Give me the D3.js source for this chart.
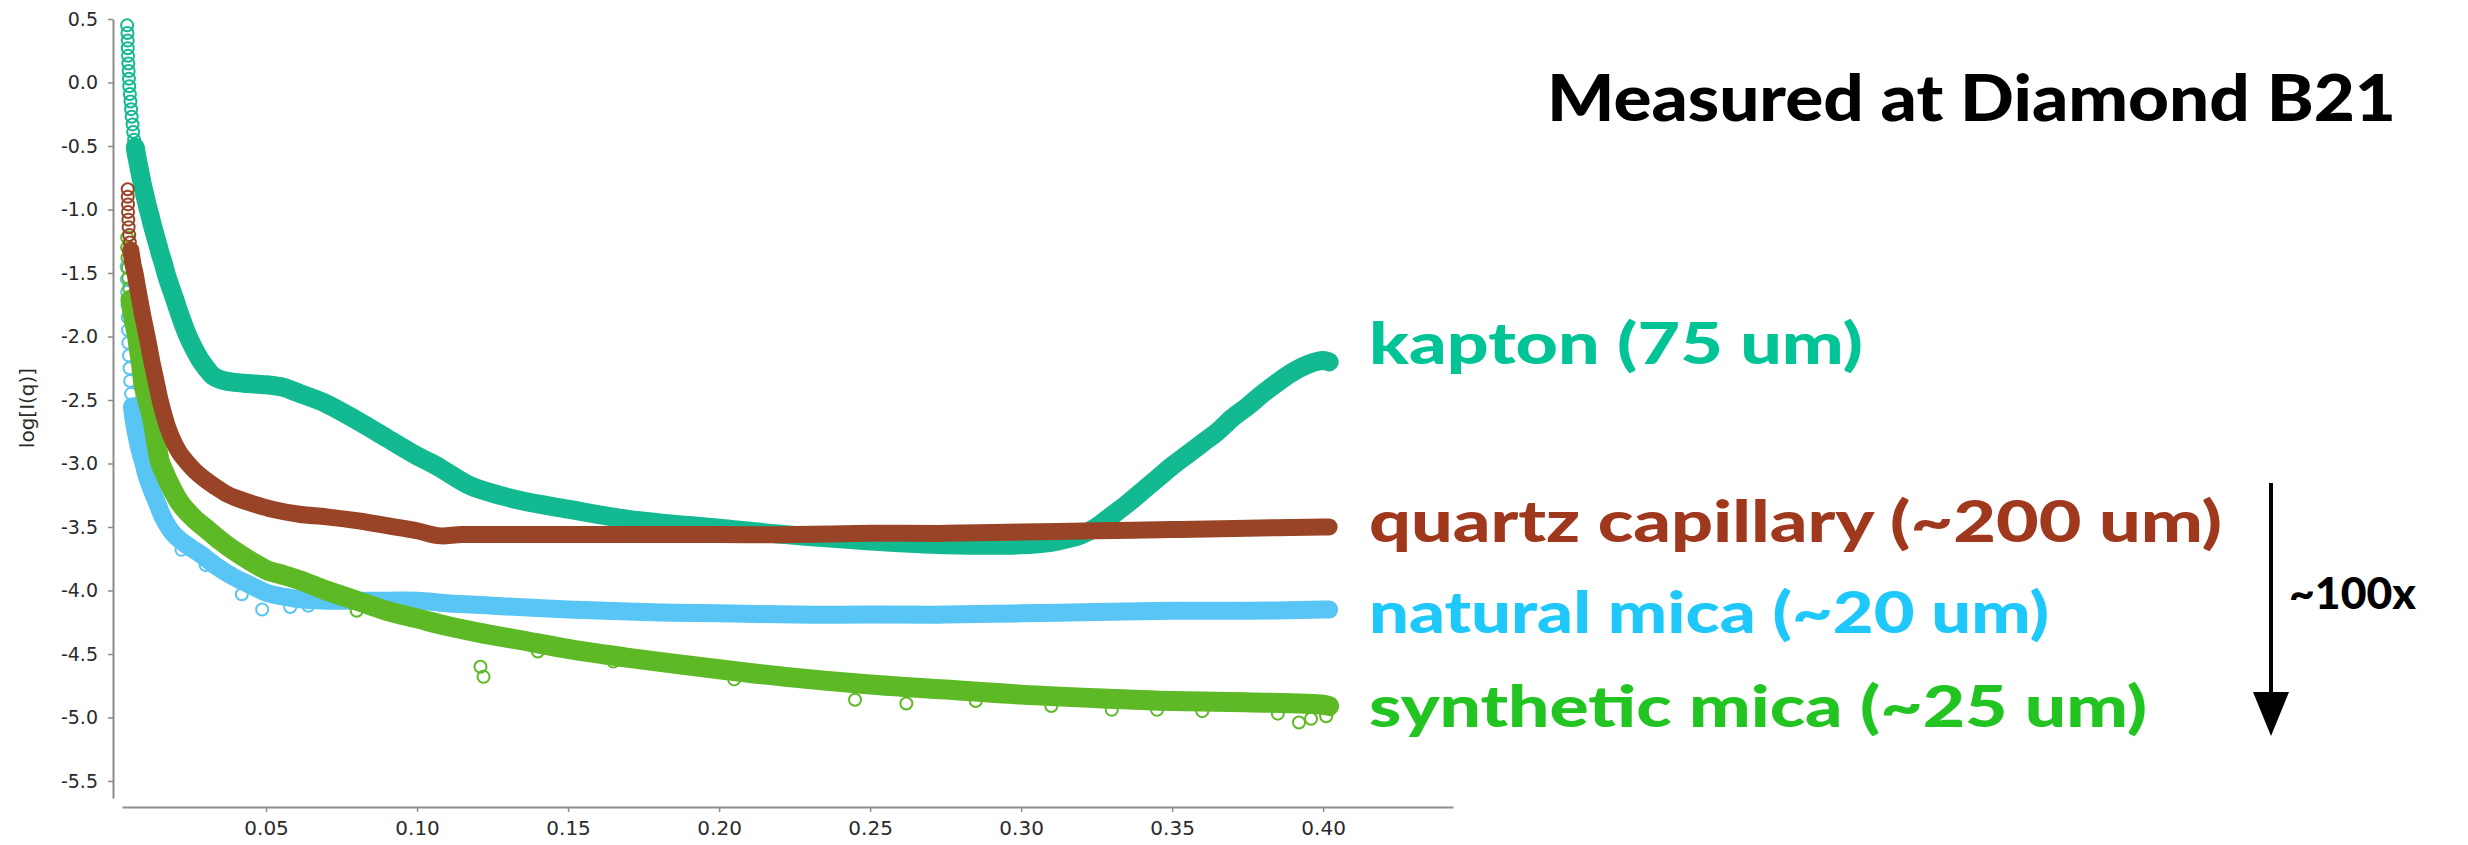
<!DOCTYPE html>
<html>
<head>
<meta charset="utf-8">
<script src="https://cdn.jsdelivr.net/npm/d3@7"></script>
<style>
  html, body { margin: 0; padding: 0; background: #fff; }
  svg { display: block; }
</style>
</head>
<body>
<svg id="chart" width="2468" height="845"></svg>
<script>
// ---- tick values and labels ----
const xTicks = [0.05, 0.10, 0.15, 0.20, 0.25, 0.30, 0.35, 0.40];
const xTickLabels = ["0.05", "0.10", "0.15", "0.20", "0.25", "0.30", "0.35", "0.40"];
const yTicks = [0.5, 0.0, -0.5, -1.0, -1.5, -2.0, -2.5, -3.0, -3.5, -4.0, -4.5, -5.0, -5.5];
const yTickLabels = ["0.5", "0.0", "-0.5", "-1.0", "-1.5", "-2.0", "-2.5", "-3.0", "-3.5", "-4.0", "-4.5", "-5.0", "-5.5"];

// ---- measured curves: [q, log I(q)] ----
const kapton = [
  [0.0040, 0.45], [0.0041, 0.39], [0.0042, 0.33], [0.0042, 0.27], [0.0043, 0.21], [0.0044, 0.15],
  [0.0045, 0.09], [0.0046, 0.03], [0.0047, -0.03], [0.0049, -0.09], [0.0051, -0.15], [0.0053, -0.21],
  [0.0055, -0.27], [0.0058, -0.33], [0.0060, -0.39], [0.0063, -0.45], [0.0067, -0.51], [0.0071, -0.57],
  [0.0076, -0.63], [0.0081, -0.69], [0.0086, -0.75], [0.0091, -0.81], [0.0097, -0.87], [0.0103, -0.93],
  [0.0109, -0.99], [0.0116, -1.05], [0.0122, -1.11], [0.0129, -1.17], [0.0136, -1.23], [0.0143, -1.29],
  [0.0150, -1.35], [0.0158, -1.41], [0.0165, -1.47], [0.0172, -1.53], [0.0185, -1.62], [0.0198, -1.71],
  [0.0212, -1.81], [0.0227, -1.91], [0.0242, -2.00], [0.0260, -2.09], [0.0281, -2.18], [0.0302, -2.25],
  [0.0324, -2.31], [0.0350, -2.34], [0.0390, -2.36], [0.0440, -2.37], [0.0500, -2.38], [0.0556, -2.40],
  [0.0613, -2.45], [0.0700, -2.53], [0.0800, -2.66], [0.0900, -2.80], [0.1000, -2.94], [0.1050, -3.00],
  [0.1080, -3.04], [0.1100, -3.07], [0.1180, -3.18], [0.1340, -3.29], [0.1500, -3.36], [0.1700, -3.44],
  [0.2000, -3.51], [0.2220, -3.56], [0.2500, -3.61], [0.2750, -3.64], [0.3000, -3.64], [0.3100, -3.62],
  [0.3160, -3.59], [0.3200, -3.56], [0.3250, -3.50], [0.3300, -3.41], [0.3350, -3.32], [0.3400, -3.22],
  [0.3450, -3.12], [0.3500, -3.02], [0.3550, -2.93], [0.3600, -2.84], [0.3650, -2.75], [0.3700, -2.64],
  [0.3750, -2.55], [0.3800, -2.45], [0.3850, -2.36], [0.3900, -2.28], [0.3950, -2.22], [0.4000, -2.19],
  [0.4020, -2.20]
];

const quartz = [
  [0.0042, -0.84], [0.0042, -0.90], [0.0043, -0.96], [0.0043, -1.02], [0.0044, -1.08], [0.0045, -1.14],
  [0.0047, -1.20], [0.0049, -1.26], [0.0052, -1.32], [0.0056, -1.38], [0.0060, -1.44], [0.0066, -1.50],
  [0.0072, -1.58], [0.0078, -1.66], [0.0085, -1.75], [0.0092, -1.84], [0.0099, -1.92], [0.0106, -2.00],
  [0.0114, -2.10], [0.0122, -2.20], [0.0131, -2.30], [0.0140, -2.40], [0.0149, -2.50], [0.0160, -2.60],
  [0.0175, -2.72], [0.0192, -2.82], [0.0212, -2.91], [0.0238, -2.99], [0.0265, -3.06], [0.0295, -3.12],
  [0.0330, -3.18], [0.0370, -3.24], [0.0410, -3.28], [0.0460, -3.32], [0.0520, -3.36], [0.0610, -3.40],
  [0.0700, -3.42], [0.0800, -3.45], [0.0900, -3.49], [0.1000, -3.53], [0.1050, -3.56], [0.1080, -3.57],
  [0.1150, -3.56], [0.1300, -3.56], [0.1500, -3.56], [0.1750, -3.56], [0.2000, -3.56], [0.2250, -3.56],
  [0.2500, -3.55], [0.2750, -3.55], [0.3000, -3.54], [0.3250, -3.53], [0.3500, -3.52], [0.3750, -3.51],
  [0.4000, -3.50], [0.4020, -3.50]
];

const naturalMica = [
  [0.0038, -1.45], [0.0039, -1.55], [0.0040, -1.65], [0.0041, -1.75], [0.0042, -1.85], [0.0043, -1.95],
  [0.0044, -2.05], [0.0046, -2.15], [0.0048, -2.25], [0.0050, -2.35], [0.0053, -2.45], [0.0056, -2.55],
  [0.0060, -2.63], [0.0066, -2.72], [0.0073, -2.80], [0.0082, -2.90], [0.0093, -2.99], [0.0105, -3.10],
  [0.0120, -3.20], [0.0139, -3.31], [0.0160, -3.43], [0.0192, -3.55], [0.0230, -3.63], [0.0281, -3.71],
  [0.0330, -3.80], [0.0390, -3.89], [0.0450, -3.96], [0.0503, -4.02], [0.0560, -4.05], [0.0613, -4.07],
  [0.0700, -4.08], [0.0800, -4.08], [0.0900, -4.08], [0.1000, -4.08], [0.1100, -4.10], [0.1250, -4.12],
  [0.1500, -4.15], [0.1750, -4.17], [0.2000, -4.18], [0.2250, -4.19], [0.2500, -4.19], [0.2750, -4.19],
  [0.3000, -4.18], [0.3250, -4.17], [0.3500, -4.16], [0.3750, -4.16], [0.4000, -4.15], [0.4020, -4.15]
];
const naturalMicaScatter = [
  [0.0487, -4.15], [0.0580, -4.13], [0.0420, -4.03], [0.0640, -4.12], [0.0300, -3.80], [0.0220, -3.68]
];

const syntheticMica = [
  [0.0040, -1.22], [0.0040, -1.30], [0.0041, -1.38], [0.0042, -1.46], [0.0044, -1.54], [0.0047, -1.62],
  [0.0051, -1.71], [0.0056, -1.79], [0.0062, -1.87], [0.0068, -1.94], [0.0073, -2.00], [0.0078, -2.09],
  [0.0084, -2.18], [0.0089, -2.27], [0.0093, -2.36], [0.0100, -2.44], [0.0108, -2.51], [0.0116, -2.58],
  [0.0123, -2.65], [0.0130, -2.74], [0.0136, -2.83], [0.0142, -2.91], [0.0149, -2.99], [0.0165, -3.08],
  [0.0180, -3.16], [0.0215, -3.31], [0.0260, -3.43], [0.0305, -3.52], [0.0350, -3.61], [0.0390, -3.68],
  [0.0450, -3.77], [0.0503, -3.84], [0.0560, -3.88], [0.0613, -3.92], [0.0700, -4.00], [0.0800, -4.08],
  [0.0900, -4.16], [0.1000, -4.22], [0.1100, -4.28], [0.1200, -4.33], [0.1340, -4.39], [0.1500, -4.46],
  [0.1700, -4.53], [0.2000, -4.62], [0.2220, -4.68], [0.2500, -4.74], [0.2750, -4.78], [0.3000, -4.82],
  [0.3270, -4.85], [0.3500, -4.87], [0.3740, -4.88], [0.4000, -4.90], [0.4020, -4.91]
];
const syntheticMicaScatter = [
  [0.1210, -4.60], [0.1220, -4.68], [0.0800, -4.16], [0.1650, -4.56], [0.2450, -4.86],
  [0.2620, -4.89], [0.3100, -4.91], [0.3300, -4.94], [0.3600, -4.95], [0.3850, -4.97],
  [0.3920, -5.04], [0.3960, -5.01], [0.4010, -4.99], [0.2050, -4.70], [0.2850, -4.87],
  [0.1400, -4.48], [0.3450, -4.94]
];

// ---- layout ----
const svg = d3.select("#chart");
const x = d3.scaleLinear().domain([0.0023, 0.443]).range([122, 1453]);
const y = d3.scaleLinear().domain([-5.634, 0.5]).range([798, 19]);

const axisColor = "#8c8c8c";
const tickFont = "'DejaVu Sans', 'Liberation Sans', sans-serif";

// x axis
const gx = svg.append("g").attr("transform", "translate(0,807)")
  .call(d3.axisBottom(x).tickValues(xTicks).tickFormat((d, i) => xTickLabels[i])
    .tickSize(5).tickSizeOuter(0).tickPadding(9));
gx.select(".domain").attr("stroke", axisColor).attr("stroke-width", 2);
gx.selectAll(".tick line").attr("stroke", axisColor).attr("stroke-width", 1.5);
gx.selectAll(".tick text").attr("fill", "#2a2a2a").style("font-family", tickFont).style("font-size", "20px");

// y axis
const gy = svg.append("g").attr("transform", "translate(113,0)")
  .call(d3.axisLeft(y).tickValues(yTicks).tickFormat((d, i) => yTickLabels[i])
    .tickSize(5).tickSizeOuter(0).tickPadding(10));
gy.select(".domain").attr("stroke", axisColor).attr("stroke-width", 2);
gy.selectAll(".tick line").attr("stroke", axisColor).attr("stroke-width", 1.5);
gy.selectAll(".tick text").attr("fill", "#2a2a2a").style("font-family", tickFont).style("font-size", "19px");

svg.append("text")
  .attr("transform", "translate(34,408) rotate(-90)")
  .attr("text-anchor", "middle")
  .style("font-family", tickFont).style("font-size", "20px").attr("fill", "#2a2a2a")
  .text("log[I(q)]");

// ---- series: a dense band through the points plus the open-circle markers ----
const series = [
  { data: naturalMica, scatter: naturalMicaScatter, color: "#58c5f5", bandFrom: 11, width: 18 },
  { data: syntheticMica, scatter: syntheticMicaScatter, color: "#5db925", bandFrom: 6, width: 20 },
  { data: kapton, scatter: [], color: "#12b991", bandFrom: 16, width: 19 },
  { data: quartz, scatter: [], color: "#994427", bandFrom: 8, width: 17 }
];

const band = d3.line()
  .x(d => x(d[0]))
  .y(d => y(d[1]))
  .curve(d3.curveCatmullRom.alpha(0.5));

series.forEach(s => {
  const g = svg.append("g");
  g.append("path")
    .attr("d", band(s.data.slice(s.bandFrom)))
    .attr("fill", "none")
    .attr("stroke", s.color)
    .attr("stroke-width", s.width)
    .attr("stroke-linecap", "round")
    .attr("stroke-linejoin", "round");
  g.selectAll("circle")
    .data(s.data.concat(s.scatter))
    .join("circle")
    .attr("cx", d => x(d[0]))
    .attr("cy", d => y(d[1]))
    .attr("r", 6)
    .attr("fill", "none")
    .attr("stroke", s.color)
    .attr("stroke-width", 2);
});

// ---- annotations ----
const boldFont = "Lato, 'Open Sans', sans-serif";
svg.append("text")
  .attr("x", 1547).attr("y", 121)
  .attr("textLength", 849).attr("lengthAdjust", "spacingAndGlyphs")
  .style("font-family", boldFont).style("font-weight", 900).style("font-size", "65px")
  .attr("fill", "#000")
  .text("Measured at Diamond B21");

const labels = [
  { text: "kapton (75 um)", color: "#00c496", y: 364, w: 494 },
  { text: "quartz capillary (~200 um)", color: "#a0381e", y: 542, w: 853 },
  { text: "natural mica (~20 um)", color: "#1ec8fa", y: 633, w: 680 },
  { text: "synthetic mica (~25 um)", color: "#22c422", y: 727, w: 778 }
];
labels.forEach(l => {
  svg.append("text")
    .attr("x", 1369).attr("y", l.y)
    .attr("textLength", l.w).attr("lengthAdjust", "spacingAndGlyphs")
    .style("font-family", boldFont).style("font-weight", 900).style("font-size", "57px")
    .attr("fill", l.color)
    .text(l.text);
});

// scale arrow
svg.append("line")
  .attr("x1", 2271).attr("y1", 483).attr("x2", 2271).attr("y2", 700)
  .attr("stroke", "#000").attr("stroke-width", 4);
svg.append("path")
  .attr("d", "M2253,692 L2289,692 L2271,736 Z")
  .attr("fill", "#000");
svg.append("text")
  .attr("x", 2289).attr("y", 609)
  .attr("textLength", 127).attr("lengthAdjust", "spacingAndGlyphs")
  .style("font-family", boldFont).style("font-weight", 900).style("font-size", "44px")
  .attr("fill", "#000")
  .text("~100x");
</script>
</body>
</html>
